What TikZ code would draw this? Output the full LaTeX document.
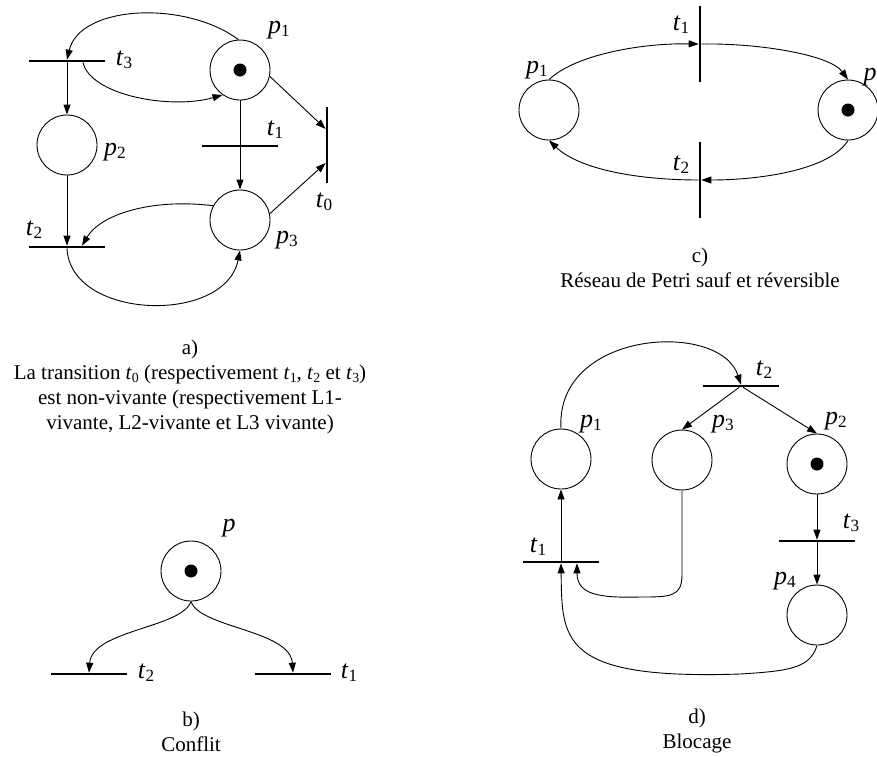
\documentclass[tikz,border=0pt]{standalone}
\usepackage{fontspec}
\setmainfont{Liberation Serif}
\usetikzlibrary{arrows.meta}

\makeatletter
\newcommand{\indice}[2]{\textit{#1}\raisebox{-0.12em}{\fontsize{\strip@pt\dimexpr0.66\dimexpr\f@size pt\relax\relax}{1}\selectfont #2}}
\makeatother

\begin{document}
\begin{tikzpicture}[
  x=1pt, y=-1pt,
  font=\fontsize{21}{25}\selectfont,
  fleche/.style={draw=black, line width=0.9pt, -{Triangle[length=10pt, width=7pt]}},
  lieu/.style={circle, draw=black, line width=0.9pt, minimum size=60pt, inner sep=0pt},
  jeton/.style={circle, fill=black, minimum size=13pt, inner sep=0pt},
  transh/.style={rectangle, fill=black, minimum width=76pt, minimum height=2.2pt, inner sep=0pt},
  transv/.style={rectangle, fill=black, minimum width=2.2pt, minimum height=76pt, inner sep=0pt},
  etiquette/.style={inner sep=0pt, font=\fontsize{26}{30}\selectfont},
  legende/.style={align=center, inner sep=0pt}
]
\useasboundingbox (0,0) rectangle (877,756);

%--------------------------------------------------------------
% a) transitions t0 a t3
%--------------------------------------------------------------
\node[lieu] (p1a) at (240,70) {};
\node[jeton] (j1a) at (p1a) {};
\node[lieu] (p2a) at (67,145) {};
\node[lieu] (p3a) at (240,220) {};
\node[transh] (t3a) at (67,61) {};
\node[transh] (t1a) at (240,146) {};
\node[transh] (t2a) at (67,247) {};
\node[transv] (t0a) at (327,145) {};
\node[etiquette] (lp1a) at (279,30) {\indice{p}{1}};
\node[etiquette] (lp2a) at (115,152) {\indice{p}{2}};
\node[etiquette] (lp3a) at (287,240) {\indice{p}{3}};
\node[etiquette] (lt0a) at (324,202) {\indice{t}{0}};
\node[etiquette] (lt1a) at (275,130) {\indice{t}{1}};
\node[etiquette] (lt2a) at (34,230) {\indice{t}{2}};
\node[etiquette] (lt3a) at (124,60) {\indice{t}{3}};
% arcs
\draw[fleche] (p1a.93) .. controls (185,0) and (80,5) .. (t3a.north);
\draw[fleche] ([xshift=16pt]t3a.south) .. controls (90,95) and (170,110) .. (p1a.235);
\draw[fleche] (t3a) -- (p2a);
\draw[fleche] (p2a) -- (t2a);
\draw[fleche] (p1a) -- (p3a);
\draw[fleche] (p1a.-12) -- ([yshift=16pt]t0a.west);
\draw[fleche] (p3a.12) -- ([yshift=-18pt]t0a.west);
\draw[fleche] (p3a.152) .. controls (150,198) and (100,215) .. ([xshift=15pt]t2a.north);
\draw[fleche] (t2a.south) .. controls (70,320) and (225,325) .. (p3a.south);
\node[legende] (ca) at (190,387) {a)\\
  La transition \indice{t}{0} (respectivement \indice{t}{1}, \indice{t}{2} et \indice{t}{3})\\
  est non-vivante (respectivement L1-\\
  vivante, L2-vivante et L3 vivante)};

%--------------------------------------------------------------
% b) conflit
%--------------------------------------------------------------
\node[lieu] (pb) at (191,571) {};
\node[jeton] (jb) at (pb) {};
\node[transh] (t2b) at (89,674) {};
\node[transh] (t1b) at (293,674) {};
\node[etiquette] (lpb) at (229,528) {\textit{p}};
\node[etiquette] (lt2b) at (146,673) {\indice{t}{2}};
\node[etiquette] (lt1b) at (349,673) {\indice{t}{1}};
\draw[fleche] (pb.south) .. controls (200,628) and (290,630) .. (t1b.north);
\draw[fleche] (pb.south) .. controls (182,628) and (92,630) .. (t2b.north);
\node[legende] (cb) at (191,732) {b)\\Conflit};

%--------------------------------------------------------------
% c) reseau sauf et reversible
%--------------------------------------------------------------
\node[lieu] (p1c) at (549,110) {};
\node[lieu] (p2c) at (848,110) {};
\node[jeton] (j2c) at (p2c) {};
\node[transv] (t1c) at (700,44) {};
\node[transv] (t2c) at (700,180) {};
\node[etiquette] (lp1c) at (537,70) {\indice{p}{1}};
\node[etiquette] (lp2c) at (870,77) {\textit{p}};
\node[etiquette] (lt1c) at (681,25) {\indice{t}{1}};
\node[etiquette] (lt2c) at (681,165) {\indice{t}{2}};
\draw[fleche] (p1c.north) .. controls (575,55) and (640,43) .. (t1c.west);
\draw[fleche] (t1c.east) .. controls (760,43) and (830,55) .. (p2c.north);
\draw[fleche] (p2c.south) .. controls (830,170) and (760,180) .. (t2c.east);
\draw[fleche] (t2c.west) .. controls (640,180) and (580,170) .. (p1c.south);
\node[legende] (cc) at (700,268) {c)\\R\'eseau de Petri sauf et r\'eversible};

%--------------------------------------------------------------
% d) blocage
%--------------------------------------------------------------
\node[lieu] (p1d) at (561,459) {};
\node[lieu] (p3d) at (682,460) {};
\node[lieu] (p2d) at (817,464) {};
\node[jeton] (j2d) at (p2d) {};
\node[lieu] (p4d) at (817,615) {};
\node[transh] (t2d) at (741,386) {};
\node[transh] (t3d) at (817,541) {};
\node[transh] (t1d) at (561,562) {};
\node[etiquette] (lt2d) at (764,370) {\indice{t}{2}};
\node[etiquette] (lp1d) at (591,424) {\indice{p}{1}};
\node[etiquette] (lp3d) at (723,424) {\indice{p}{3}};
\node[etiquette] (lp2d) at (836,421) {\indice{p}{2}};
\node[etiquette] (lt3d) at (851,523) {\indice{t}{3}};
\node[etiquette] (lp4d) at (785,581) {\indice{p}{4}};
\node[etiquette] (lt1d) at (538,547) {\indice{t}{1}};
\draw[fleche] (p1d.north) .. controls (555,330) and (720,320) .. (t2d.north);
\draw[fleche] (t2d) -- (p3d.north);
\draw[fleche] (t2d) -- (p2d.north);
\draw[fleche] (p2d) -- (t3d);
\draw[fleche] (t3d) -- (p4d);
\draw[fleche] (t1d) -- (p1d);
\draw[fleche] (p3d.south) -- (682,575) .. controls (682,597) and (670,597) .. (640,597)
  .. controls (600,598) and (577,595) .. ([xshift=16pt]t1d.south);
\draw[fleche] (p4d.south) .. controls (810,668) and (790,671) .. (740,674)
  .. controls (560,680) and (562,640) .. (t1d.south);
\node[legende] (cd) at (697,731) {d)\\Blocage};

\end{tikzpicture}
\end{document}
